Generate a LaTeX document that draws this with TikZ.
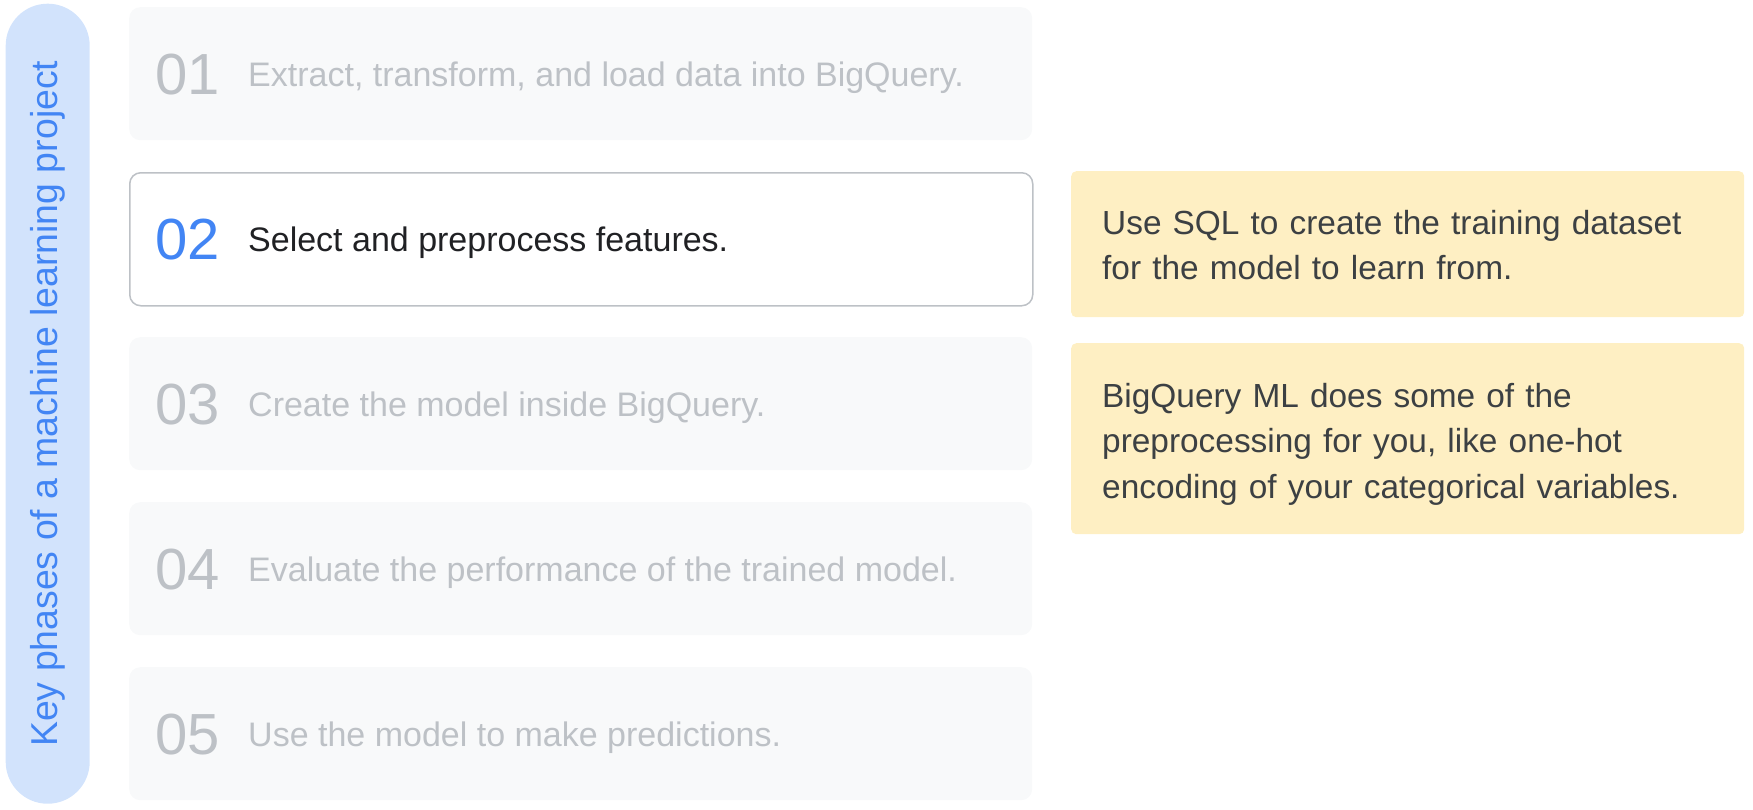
\documentclass[tikz,border=0pt]{standalone}
\usepackage{fontspec}
\setmainfont{Liberation Sans}
\usetikzlibrary{positioning}

\definecolor{pillblue}{HTML}{D2E3FC}
\definecolor{labelblue}{HTML}{4285F4}
\definecolor{stepgray}{HTML}{F8F9FA}
\definecolor{fadegray}{HTML}{BDC1C6}
\definecolor{edgegray}{HTML}{BDC1C6}
\definecolor{darktext}{HTML}{202124}
\definecolor{noteyellow}{HTML}{FEEFC3}
\definecolor{notetext}{HTML}{3C4043}

\begin{document}
\begin{tikzpicture}[x=1pt, y=-1pt,
    phase/.style = {rectangle, rounded corners=11pt, fill=stepgray, minimum width=903pt, minimum height=133pt, anchor=north west, inner sep=0pt},
    active/.style = {phase, fill=white, draw=edgegray, line width=1.5pt},
    num/.style = {anchor=base west, inner sep=0pt, text=fadegray, font=\fontsize{58}{60}\selectfont},
    desc/.style = {anchor=base west, inner sep=0pt, text=fadegray, font=\fontsize{34}{38}\selectfont},
    note/.style = {rectangle, rounded corners=5pt, fill=noteyellow, minimum width=673pt, anchor=north west, inner sep=0pt},
    notetxt/.style = {anchor=base west, inner sep=0pt, text=notetext, text width=650pt, align=left, font=\fontsize{33.4}{45.5}\selectfont}]
                \useasboundingbox (0,0) rectangle (1753,809);

                % side label
                \node[rectangle, rounded corners=41.9pt, fill=pillblue, minimum width=84pt, minimum height=800pt, anchor=north west, inner sep=0pt] (pill) at (5.5,3.5) {};
                \node[rotate=90, text=labelblue, font=\fontsize{37.4}{42}\selectfont] (label) at (pill.center) {Key phases of a machine learning project};

                % phases
                \node[phase] (p1) at (129,7) {};
                \node[active] (p2) at (129,172) {};
                \node[phase] (p3) at (129,337) {};
                \node[phase] (p4) at (129,502) {};
                \node[phase] (p5) at (129,667) {};

                \node[num] (n1) at (155,94) {01};
                \node[num, text=labelblue] (n2) at (155,259) {02};
                \node[num] (n3) at (155,424) {03};
                \node[num] (n4) at (155,589) {04};
                \node[num] (n5) at (155,754) {05};

                \node[desc] (d1) at (248,86) {Extract, transform, and load data into BigQuery.};
                \node[desc, text=darktext] (d2) at (248,251) {Select and preprocess features.};
                \node[desc] (d3) at (248,416) {Create the model inside BigQuery.};
                \node[desc] (d4) at (248,581) {Evaluate the performance of the trained model.};
                \node[desc] (d5) at (248,746) {Use the model to make predictions.};

                % notes
                \node[note, minimum height=146pt] (a) at (1071,171) {};
                \node[note, minimum height=191pt] (b) at (1071,343) {};

                \node[notetxt] (ta) at (1102,234) {Use SQL to create the training dataset\\for the model to learn from.};
                \node[notetxt] (tb) at (1102,407) {BigQuery ML does some of the\\preprocessing for you, like one-hot\\encoding of your categorical variables.};
            \end{tikzpicture}
\end{document}
